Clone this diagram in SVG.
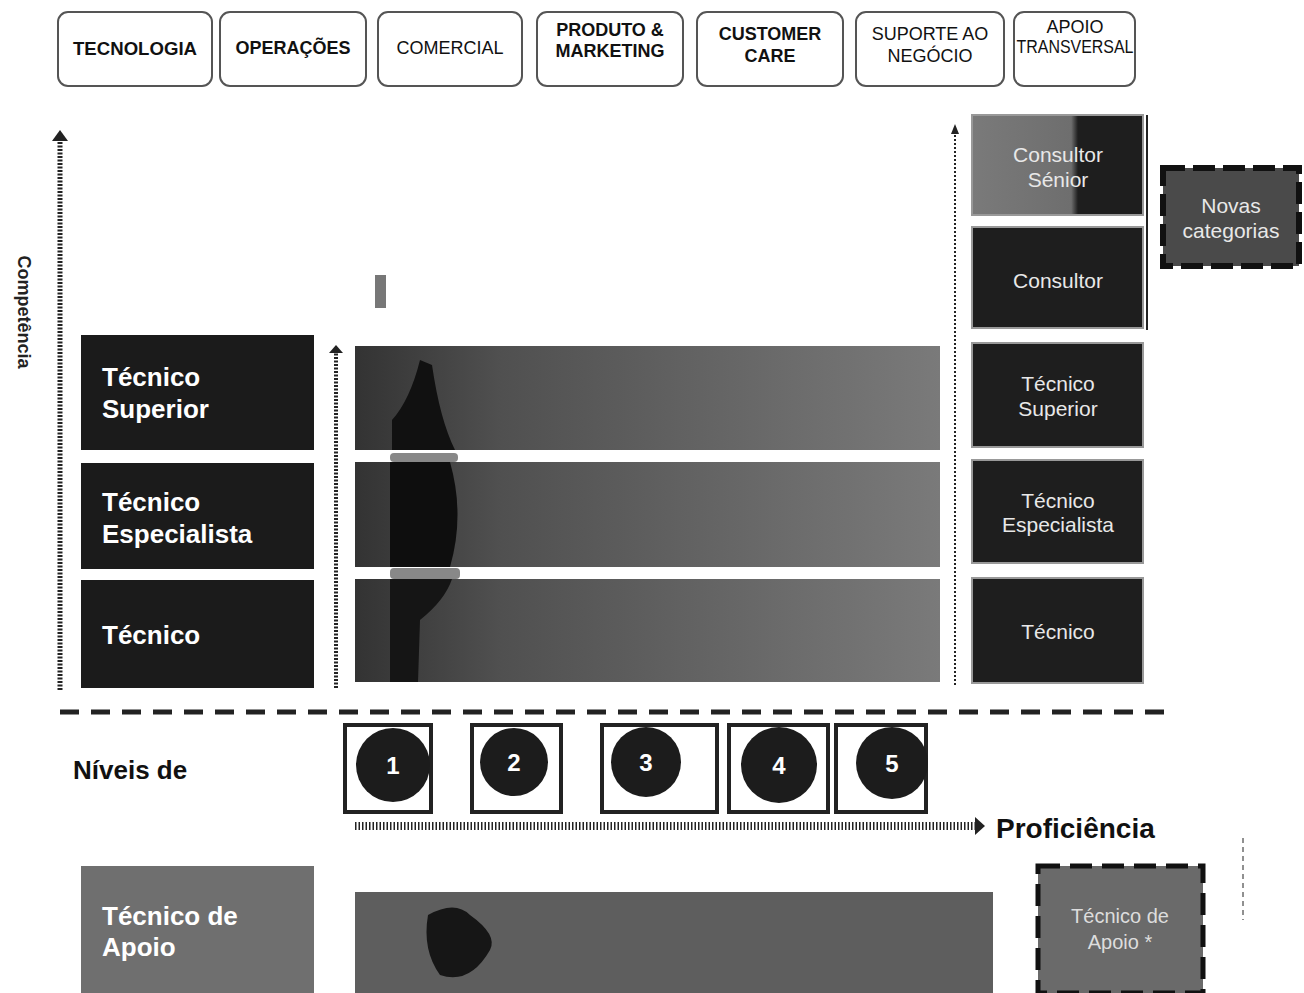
<svg xmlns="http://www.w3.org/2000/svg" width="1304" height="993" viewBox="0 0 1304 993">
<style>
.top{fill:#fff;stroke:#555;stroke-width:2}
.tt{font-family:"Liberation Sans",Arial,sans-serif;font-size:18px;fill:#111;text-anchor:middle}
.dark{fill:#1b1b1b}
.lt{font-family:"Liberation Sans",Arial,sans-serif;font-size:26px;font-weight:bold;fill:#fff}
.rt{font-family:"Liberation Sans",Arial,sans-serif;font-size:21px;fill:#e8e8e8;text-anchor:middle}
.rb{stroke:#999;stroke-width:2}
.lvl{fill:#fff;stroke:#222;stroke-width:4}
.num{font-family:"Liberation Sans",Arial,sans-serif;font-size:24px;font-weight:bold;fill:#fff;text-anchor:middle}
.ax{stroke:#222;fill:none}
</style>
<defs>
<linearGradient id="band" x1="0" x2="1" y1="0" y2="0">
<stop offset="0" stop-color="#333"/>
<stop offset="0.25" stop-color="#505050"/>
<stop offset="1" stop-color="#7a7a7a"/>
</linearGradient>
<linearGradient id="sen" x1="0" x2="1" y1="0" y2="0">
<stop offset="0" stop-color="#7a7a7a"/>
<stop offset="0.58" stop-color="#6e6e6e"/>
<stop offset="0.62" stop-color="#1e1e1e"/>
<stop offset="1" stop-color="#1e1e1e"/>
</linearGradient>
</defs>

<g id="top-areas">
<g id="a1"><rect class="top" x="58" y="12" width="154" height="74" rx="10"/><text class="tt" x="135" y="55" font-weight="bold" textLength="124" lengthAdjust="spacingAndGlyphs">TECNOLOGIA</text></g>
<g id="a2"><rect class="top" x="220" y="12" width="146" height="74" rx="10"/><text class="tt" x="293" y="54" font-weight="bold">OPERAÇÕES</text></g>
<g id="a3"><rect class="top" x="378" y="12" width="144" height="74" rx="10"/><text class="tt" x="450" y="54">COMERCIAL</text></g>
<g id="a4"><rect class="top" x="537" y="12" width="146" height="74" rx="10"/><text class="tt" x="610" y="36" font-weight="bold">PRODUTO &amp;</text><text class="tt" x="610" y="57" font-weight="bold">MARKETING</text></g>
<g id="a5"><rect class="top" x="697" y="12" width="146" height="74" rx="10"/><text class="tt" x="770" y="40" font-weight="bold">CUSTOMER</text><text class="tt" x="770" y="62" font-weight="bold">CARE</text></g>
<g id="a6"><rect class="top" x="856" y="12" width="148" height="74" rx="10"/><text class="tt" x="930" y="40">SUPORTE AO</text><text class="tt" x="930" y="62">NEGÓCIO</text></g>
<g id="a7"><rect class="top" x="1014" y="12" width="121" height="74" rx="10"/><text class="tt" x="1075" y="33">APOIO</text><text class="tt" x="1075" y="53" textLength="117" lengthAdjust="spacingAndGlyphs">TRANSVERSAL</text></g>
</g>

<g id="connectors">
<line class="ax" x1="60" y1="690" x2="60" y2="140" stroke-width="5" stroke-dasharray="2,1.5"/>
<path d="M52,141 L60,130 L68,141 z" fill="#222"/>
<line class="ax" x1="336" y1="688" x2="336" y2="352" stroke-width="4" stroke-dasharray="2,1.5"/>
<path d="M329,353 L336,345 L343,353 z" fill="#222"/>
<line class="ax" x1="955" y1="685" x2="955" y2="133" stroke-width="2" stroke-dasharray="2,2"/>
<path d="M951,134 L955,124 L959,134 z" fill="#222"/>
<line class="ax" x1="60" y1="712" x2="1172" y2="712" stroke-width="5" stroke-dasharray="19,12"/>
<line class="ax" x1="355" y1="826" x2="975" y2="826" stroke-width="8" stroke-dasharray="1.5,2"/>
<path d="M975,817 L985,826 L975,835 z" fill="#222"/>
<line class="ax" x1="1147" y1="115" x2="1147" y2="330" stroke-width="2" stroke="#666"/>
<line class="ax" x1="1243" y1="838" x2="1243" y2="920" stroke-width="1" stroke="#666" stroke-dasharray="5,4"/>
</g>

<text x="18" y="312" font-family="Liberation Sans, Arial, sans-serif" font-size="18" font-weight="bold" fill="#222" text-anchor="middle" transform="rotate(90 18 312)">Competência</text>

<g id="left-categories">
<g id="l1"><rect class="dark" x="81" y="335" width="233" height="115"/><text class="lt" x="102" y="386">Técnico</text><text class="lt" x="102" y="418">Superior</text></g>
<g id="l2"><rect class="dark" x="81" y="463" width="233" height="106"/><text class="lt" x="102" y="511">Técnico</text><text class="lt" x="102" y="543">Especialista</text></g>
<g id="l3"><rect class="dark" x="81" y="580" width="233" height="108"/><text class="lt" x="102" y="644">Técnico</text></g>
<g id="l4"><rect x="81" y="866" width="233" height="127" fill="#6f6f6f"/><text class="lt" x="102" y="925">Técnico de</text><text class="lt" x="102" y="956">Apoio</text></g>
</g>

<g id="bands">
<rect x="375" y="275" width="11" height="33" fill="#777"/>
<rect x="355" y="346" width="585" height="104" fill="url(#band)"/>
<rect x="355" y="462" width="585" height="105" fill="url(#band)"/>
<rect x="355" y="579" width="585" height="103" fill="url(#band)"/>
<path d="M392,450 L392,420 Q410,400 420,360 L432,365 Q440,420 455,450 Z" fill="#111"/>
<rect x="390" y="453" width="68" height="9" rx="4" fill="#888"/>
<path d="M390,462 L450,462 Q465,515 450,567 L390,567 Z" fill="#0e0e0e"/>
<rect x="390" y="568" width="70" height="11" rx="4" fill="#888"/>
<path d="M390,579 L452,579 Q445,600 420,620 L418,682 L390,682 Z" fill="#151515"/>
<rect x="355" y="892" width="638" height="101" fill="#5e5e5e"/>
<path d="M428,915 Q455,900 470,915 Q498,935 490,950 Q470,985 440,975 Q422,950 428,915 Z" fill="#161616"/>
</g>

<g id="right-categories">
<g id="r1"><rect class="rb" x="972" y="115" width="171" height="100" fill="url(#sen)"/><text class="rt" x="1058" y="162">Consultor</text><text class="rt" x="1058" y="187">Sénior</text></g>
<g id="r2"><rect class="rb" x="972" y="227" width="171" height="101" fill="#1e1e1e"/><text class="rt" x="1058" y="288">Consultor</text></g>
<g id="r3"><rect class="rb" x="972" y="343" width="171" height="104" fill="#1e1e1e"/><text class="rt" x="1058" y="391">Técnico</text><text class="rt" x="1058" y="416">Superior</text></g>
<g id="r4"><rect class="rb" x="972" y="460" width="171" height="103" fill="#1e1e1e"/><text class="rt" x="1058" y="508">Técnico</text><text class="rt" x="1058" y="532">Especialista</text></g>
<g id="r5"><rect class="rb" x="972" y="578" width="171" height="105" fill="#1e1e1e"/><text class="rt" x="1058" y="639">Técnico</text></g>
<g id="novas"><rect x="1163" y="168" width="136" height="98" fill="#4a4a4a" stroke="#111" stroke-width="6" stroke-dasharray="22,8"/><text class="rt" x="1231" y="213" font-size="22.5px">Novas</text><text class="rt" x="1231" y="238" font-size="22.5px">categorias</text></g>
<g id="r6"><rect x="1038" y="866" width="165" height="127" fill="#6a6a6a" stroke="#111" stroke-width="5" stroke-dasharray="22,10"/><text x="1120" y="923" font-family="Liberation Sans, Arial, sans-serif" font-size="20" fill="#ddd" text-anchor="middle">Técnico de</text><text x="1120" y="949" font-family="Liberation Sans, Arial, sans-serif" font-size="20" fill="#ddd" text-anchor="middle">Apoio *</text></g>
</g>

<text x="73" y="779" font-family="Liberation Sans, Arial, sans-serif" font-size="26" font-weight="bold" fill="#111">Níveis de</text>

<g id="levels">
<g id="n1"><rect class="lvl" x="345" y="725" width="86" height="87"/><circle cx="393" cy="765" r="37" fill="#1c1c1c"/><text class="num" x="393" y="774">1</text></g>
<g id="n2"><rect class="lvl" x="472" y="725" width="89" height="87"/><circle cx="514" cy="762" r="34" fill="#1c1c1c"/><text class="num" x="514" y="771">2</text></g>
<g id="n3"><rect class="lvl" x="602" y="725" width="115" height="87"/><circle cx="646" cy="762" r="35" fill="#1c1c1c"/><text class="num" x="646" y="771">3</text></g>
<g id="n4"><rect class="lvl" x="729" y="725" width="99" height="87"/><circle cx="779" cy="765" r="38" fill="#1c1c1c"/><text class="num" x="779" y="774">4</text></g>
<g id="n5"><rect class="lvl" x="836" y="725" width="90" height="87"/><circle cx="892" cy="763" r="36" fill="#1c1c1c"/><text class="num" x="892" y="772">5</text></g>
</g>

<text x="996" y="838" font-family="Liberation Sans, Arial, sans-serif" font-size="28" font-weight="bold" fill="#111">Proficiência</text>
</svg>
